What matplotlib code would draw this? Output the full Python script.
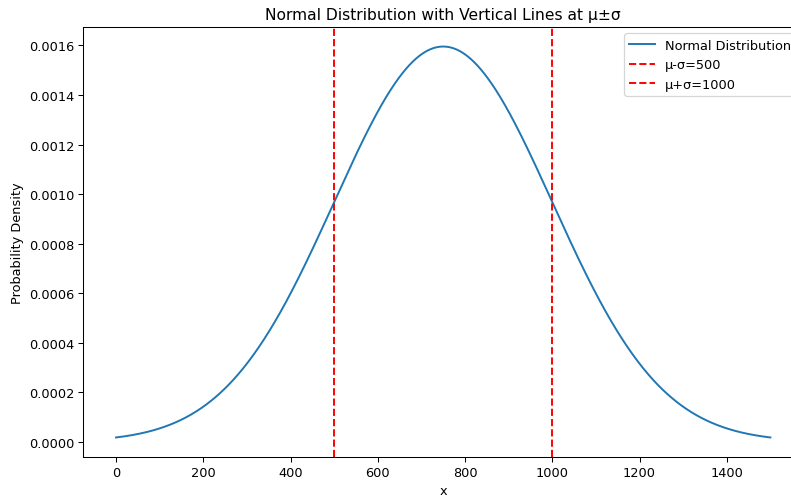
import numpy as np
import matplotlib.pyplot as plt

# distribution parameters
mu = 750
sigma = 250
x_start = 0
x_end = 1500
n_points = 1000

x = np.linspace(x_start, x_end, n_points)
pdf = np.exp(-0.5 * ((x - mu) / sigma) ** 2) / (sigma * np.sqrt(2 * np.pi))

# the reference looks rendered at a slightly lower dpi, so text is a bit smaller
dpi = 93
fig = plt.figure(figsize=(791 / dpi, 498 / dpi), dpi=dpi)
# the reference is cropped on the right, so the axes run past the figure edge
ax = fig.add_axes([0.1053, 0.0803, 0.910, 0.8635])

ax.plot(x, pdf, label="Normal Distribution")
ax.axvline(mu - sigma, color='red', linestyle='--', label=f"μ-σ={mu - sigma}")
ax.axvline(mu + sigma, color='red', linestyle='--', label=f"μ+σ={mu + sigma}")

ax.set_title("Normal Distribution with Vertical Lines at μ±σ")
ax.set_xlabel("x")
ax.set_ylabel("Probability Density")
ax.legend(loc='upper right')

fig.savefig("out.png", dpi=dpi)
